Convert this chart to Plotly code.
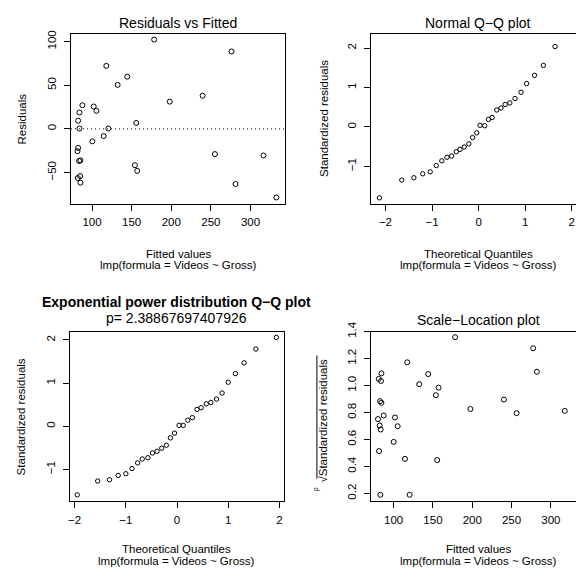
import plotly.graph_objects as go

W, H = 576, 571
FONT = "Liberation Sans, Arial, Helvetica, sans-serif"

# ---- Panel 1: Residuals vs Fitted ----
fitted = [178.4, 276.1, 118.0, 144.4, 132.3, 87.8, 102.1, 105.5, 84.1, 82.4,
          84.1, 120.5, 155.8, 198.1, 239.6, 114.7, 100.4, 82.4, 81.6, 83.6,
          85.3, 154.1, 157.0, 84.9, 82.0, 85.3, 255.1, 316.4, 281.1, 332.7]
residuals = [102.3, 88.7, 72.2, 59.8, 50.4, 27.1, 25.6, 20.7, 18.8, 9.4,
             0.4, 0.4, 6.8, 31.2, 38.0, -8.3, -14.3, -21.8, -25.6, -36.8,
             -36.1, -41.7, -48.1, -54.1, -56.4, -61.7, -28.9, -30.5, -63.2, -78.6]

# ---- Panel 2: Normal Q-Q ----
qq_theoretical = [-2.13, -1.65, -1.39, -1.20, -1.04, -0.91, -0.79, -0.68, -0.58, -0.48,
                  -0.40, -0.31, -0.21, -0.13, -0.04, 0.03, 0.13, 0.21, 0.29, 0.39,
                  0.48, 0.57, 0.67, 0.78, 0.91, 1.03, 1.20, 1.39, 1.64, 2.10]
qq_std_resid = [-1.80, -1.35, -1.29, -1.19, -1.14, -0.98, -0.86, -0.77, -0.74, -0.63,
                -0.57, -0.51, -0.43, -0.27, -0.15, 0.04, 0.03, 0.19, 0.24, 0.43,
                0.48, 0.57, 0.61, 0.72, 0.88, 1.10, 1.31, 1.56, 2.04, 2.22]

# ---- Panel 3: Exponential power distribution Q-Q ----
ep_theoretical = [-1.95, -1.55, -1.32, -1.15, -1.00, -0.88, -0.77, -0.68, -0.57, -0.48,
                  -0.39, -0.30, -0.21, -0.13, -0.05, 0.04, 0.12, 0.21, 0.30, 0.39,
                  0.47, 0.57, 0.66, 0.77, 0.88, 1.00, 1.14, 1.31, 1.54, 1.94]
ep_std_resid = [-1.59, -1.27, -1.24, -1.14, -1.10, -0.98, -0.85, -0.76, -0.73, -0.62,
                -0.58, -0.51, -0.44, -0.27, -0.16, 0.02, 0.02, 0.14, 0.20, 0.39,
                0.43, 0.52, 0.55, 0.63, 0.77, 1.02, 1.22, 1.47, 1.79, 2.06]
p_value_text = "p= 2.38867697407926"

# ---- Panel 4: Scale-Location ----
sl_fitted = [178.2, 277.5, 333.7, 117.3, 282.2, 84.4, 144.0, 81.0, 83.9, 132.5,
             157.1, 153.7, 82.7, 84.4, 240.3, 197.6, 317.7, 256.4, 87.3, 101.7,
             80.1, 82.2, 105.1, 83.5, 100.0, 81.4, 114.4, 155.4, 83.1, 120.3]
sl_sqrt_std_resid = [1.358, 1.276, 1.206, 1.172, 1.102, 1.090, 1.085, 1.049, 1.034, 1.010,
                     0.984, 0.928, 0.884, 0.872, 0.896, 0.826, 0.812, 0.795, 0.778, 0.763,
                     0.751, 0.703, 0.698, 0.674, 0.582, 0.514, 0.456, 0.447, 0.190, 0.190]

# tick labels
p1_xticks = [100, 150, 200, 250, 300]
p1_yticks = [-50, 0, 50, 100]
qq_xticks = [-2, -1, 0, 1, 2]
qq_yticks = [-1, 0, 1, 2]
sl_yticks = [0.2, 0.4, 0.6, 0.8, 1.0, 1.2, 1.4]

caption = "lmp(formula = Videos ~ Gross)"


def lab(v, fmt="{:g}"):
    s = fmt.format(v)
    return s.replace("-", "\u2212")


def px_x(p):
    return p / W


def px_y(p):
    return 1 - p / H


fig = go.Figure()

mk_big = dict(symbol="circle-open", size=5, color="black", line=dict(width=1, color="black"))
mk_small = dict(symbol="circle-open", size=4.4, color="black", line=dict(width=1, color="black"))

fig.add_trace(go.Scatter(x=fitted, y=residuals, mode="markers", marker=mk_big,
                         xaxis="x", yaxis="y", cliponaxis=False, showlegend=False))
fig.add_trace(go.Scatter(x=qq_theoretical, y=qq_std_resid, mode="markers", marker=mk_small,
                         xaxis="x2", yaxis="y2", cliponaxis=False, showlegend=False))
fig.add_trace(go.Scatter(x=ep_theoretical, y=ep_std_resid, mode="markers", marker=mk_small,
                         xaxis="x3", yaxis="y3", cliponaxis=False, showlegend=False))
fig.add_trace(go.Scatter(x=sl_fitted, y=sl_sqrt_std_resid, mode="markers", marker=mk_big,
                         xaxis="x4", yaxis="y4", cliponaxis=False, showlegend=False))

# panel boxes in pixels
top_y = (24, 197)
bot_y = (327.3, 500)
L1 = (69.3, 284)
L3 = (68.3, 282.7)
R = (370.3, 576)

tickfont = dict(family=FONT, size=11.5, color="black")
common = dict(showgrid=False, zeroline=False, showline=True, linecolor="black", linewidth=1,
              ticks="outside", ticklen=6, tickwidth=1, tickcolor="black", tickfont=tickfont)


def xax(dom, rng, vals, mirror=True):
    return dict(domain=[px_x(dom[0]), px_x(dom[1])], range=list(rng), tickmode="array",
                tickvals=vals, ticktext=[lab(v) for v in vals], mirror=mirror,
                ticklabelstandoff=2, **common)


def yax(dom, rng, vals, anchor, mirror=True, fmt="{:g}"):
    return dict(domain=[px_y(dom[1]), px_y(dom[0])], range=list(rng), tickmode="array",
                tickvals=vals, ticktext=[lab(v, fmt) for v in vals], mirror=mirror,
                tickangle=-90, anchor=anchor, ticklabelstandoff=3, **common)


fig.update_layout(
    width=W, height=H, margin=dict(l=0, r=0, t=0, b=0),
    paper_bgcolor="white", plot_bgcolor="white", showlegend=False,
    xaxis=dict(anchor="y", **xax(L1, (73.5, 343.6), p1_xticks)),
    yaxis=yax(top_y, (-85.6, 109.2), p1_yticks, "x"),
    xaxis2=dict(anchor="y2", **xax(R, (-2.31, 2.09), qq_xticks)),
    yaxis2=yax(top_y, (-1.945, 2.369), qq_yticks, "x2", mirror=False),
    xaxis3=dict(anchor="y3", **xax(L3, (-2.09, 2.084), qq_xticks)),
    yaxis3=yax(bot_y, (-1.739, 2.195), qq_yticks, "x3"),
    xaxis4=dict(anchor="y4", **xax(R, (71.2, 332.0), p1_xticks)),
    yaxis4=yax(bot_y, (0.142, 1.40), sl_yticks, "x4", mirror=False, fmt="{:.1f}"),
)

# dotted zero line in panel 1
fig.add_shape(type="line", xref="x domain", yref="y", x0=0, x1=1, y0=0, y1=0,
              line=dict(color="black", width=1, dash="1px,3px"), layer="below")

anns = []


def text(t, xpx, ypx, size=11.5, angle=0, bold=False):
    anns.append(dict(text=("<b>%s</b>" % t) if bold else t, x=px_x(xpx), y=px_y(ypx),
                     xref="paper", yref="paper", showarrow=False, textangle=angle,
                     xanchor="center", yanchor="middle",
                     font=dict(family=FONT, size=size, color="black")))


c1 = (L1[0] + L1[1]) / 2
c2 = 478.0
c3 = (L3[0] + L3[1]) / 2

# titles
text("Residuals vs Fitted", c1, 13.3, size=14)
text("Normal Q\u2212Q plot", c2, 13.3, size=14)
text("Exponential power distribution Q\u2212Q plot", c3, 297.5, size=14, bold=True)
text(p_value_text, c3, 313.0, size=14)
text("Scale\u2212Location plot", c2, 316.0, size=14)

# x labels
text("Fitted values", c1, 248.0)
text(caption, c1, 259.5)
text("Theoretical Quantiles", c2, 248.0)
text(caption, c2, 259.5)
text("Theoretical Quantiles", c3, 549.0)
text(caption, c3, 560.5)
text("Fitted values", c2, 549.0)
text(caption, c2, 560.5)

# y labels
text("Residuals", 20.0, 110.5, angle=-90)
text("Standardized residuals", 322.5, 110.5, angle=-90)
text("Standardized residuals", 20.0, 413.7, angle=-90)
text("\u221AStandardized residuals", 322.0, 418.0, angle=-90)
text("p", 315.5, 487.0, size=6.5, angle=-90)

fig.update_layout(annotations=anns)

# overline of the radical
fig.add_shape(type="line", xref="paper", yref="paper",
              x0=px_x(316.0), x1=px_x(316.0), y0=px_y(477.0), y1=px_y(351.7),
              line=dict(color="black", width=1))

post = ("document.documentElement.style.margin='0';"
        "document.body.style.margin='0';document.body.style.padding='0';"
        "document.body.style.overflow='hidden';"
        "var d=document.getElementsByClassName('plotly-graph-div')[0];"
        "d.style.position='absolute';d.style.top='0px';d.style.left='0px';")

fig.write_html("out.html", config={"displayModeBar": False}, post_script=post)
